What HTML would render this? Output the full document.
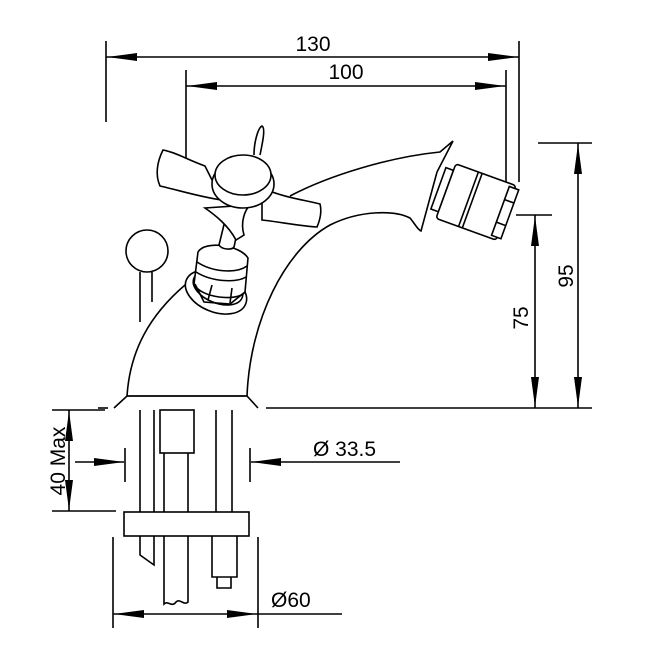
<!DOCTYPE html>
<html><head><style>html,body{margin:0;padding:0;background:#fff}svg{display:block}</style></head>
<body>
<svg width="649" height="649" viewBox="0 0 649 649" xmlns="http://www.w3.org/2000/svg" font-family="Liberation Sans, sans-serif">
<g stroke="#000" stroke-width="1.6" fill="none">
<line x1="106" y1="41" x2="106" y2="122"/>
<line x1="519" y1="41" x2="519" y2="182"/>
<line x1="106" y1="57" x2="519" y2="57"/>
<line x1="186" y1="70" x2="186" y2="162"/>
<line x1="506" y1="70" x2="506" y2="184"/>
<line x1="186" y1="86" x2="506" y2="86"/>
<line x1="538" y1="143" x2="592" y2="143"/>
<line x1="578" y1="143" x2="578" y2="408"/>
<line x1="516" y1="215" x2="552" y2="215"/>
<line x1="535" y1="215" x2="535" y2="408"/>
<line x1="266" y1="408" x2="592" y2="408"/>
<line x1="98" y1="408" x2="108" y2="408"/>
<path d="M114 408 L127 396 L247 396 L258 408"/>
<line x1="127" y1="396" x2="247" y2="396"/>
<path d="M127 396 C130 350 150 315 185 285"/>
<path d="M247 396 C250 320 285 250 330 225 C360 210 395 210 410 218 C415 224 418 230 421 231 L437 172"/>
<path d="M290 196 C330 175 390 157 440 152 L453 141 L437 172"/>
<ellipse cx="216" cy="292" rx="32" ry="20" transform="rotate(22 216 292)" fill="#fff"/>
<ellipse cx="218" cy="288" rx="26" ry="15" transform="rotate(22 218 288)" fill="#fff"/>
<path d="M198 252 C205 240 240 245 248 258 L245 292 C238 302 200 298 194 284 Z" fill="#fff"/>
<path d="M197 262 C212 272 236 274 247 266"/>
<path d="M196 272 C212 282 236 283 246 277"/>
<path d="M195 284 L204 302 L230 304 L245 292"/>
<path d="M212 285 L208 300 M232 288 L230 303"/>
<path d="M230 200 L219 245 C222 250 232 250 234 247 L243 205" fill="#fff"/>
<path d="M205 166 C188 160 175 152 163 150 C157 162 155 175 160 186 C178 190 200 197 222 200 Z" fill="#fff"/>
<path d="M262 188 C285 198 305 200 320 204 C322 212 320 220 317 227 C300 226 280 222 262 220 Z" fill="#fff"/>
<path d="M205 208 C215 215 228 225 236 240 L244 235 C240 222 245 210 250 205 Z" fill="#fff"/>
<ellipse cx="243" cy="184" rx="31" ry="24" fill="#fff"/>
<ellipse cx="243" cy="175" rx="28" ry="20" fill="#fff"/>
<path d="M254 155 C254 142 258 128 262 126 C266 128 262 145 260 155"/>
<circle cx="147" cy="251" r="21" fill="#fff"/>
<line x1="140" y1="272" x2="140" y2="322"/>
<line x1="152" y1="272" x2="152" y2="302"/>
<g transform="translate(476 202) rotate(20)" fill="#fff">
<rect x="-40" y="-22" width="8" height="44"/>
<rect x="-32" y="-29" width="64" height="58" rx="3"/>
<line x1="-8" y1="-29" x2="-8" y2="29"/>
<line x1="-4" y1="-29" x2="-4" y2="29"/>
<rect x="26" y="-26" width="10" height="52"/>
<line x1="26" y1="-12" x2="36" y2="-12"/>
<line x1="26" y1="12" x2="36" y2="12"/>
</g>
<line x1="140" y1="410" x2="140" y2="512"/><line x1="154" y1="410" x2="154" y2="512"/>
<rect x="160" y="410" width="34" height="43"/>
<line x1="164" y1="453" x2="164" y2="512"/><line x1="188" y1="453" x2="188" y2="512"/>
<line x1="216" y1="410" x2="216" y2="512"/><line x1="232" y1="410" x2="232" y2="512"/>
<rect x="124" y="512" width="125" height="24"/>
<path d="M140 536 L140 555 L154 565 L154 536"/>
<path d="M164 536 L164 604 C168 600 172 608 176 602 C180 598 184 606 188 602 L188 536"/>
<path d="M212 536 L212 577 L237 577 L237 536"/>
<path d="M217 577 L217 588 L231 588 L231 577"/>
<line x1="52" y1="410" x2="105" y2="410"/>
<line x1="52" y1="511" x2="116" y2="511"/>
<line x1="69" y1="410" x2="69" y2="511"/>
<line x1="125" y1="448" x2="125" y2="482"/>
<line x1="250" y1="448" x2="250" y2="482"/>
<line x1="75" y1="462" x2="124" y2="462"/>
<line x1="400" y1="462" x2="251" y2="462"/>
<line x1="113" y1="537" x2="113" y2="628"/>
<line x1="258" y1="537" x2="258" y2="628"/>
<line x1="113" y1="614" x2="342" y2="614"/>
</g>
<g fill="#000">
<polygon points="107,57 137,53 137,61"/><polygon points="518,57 488,53 488,61"/>
<polygon points="187,86 217,82 217,90"/><polygon points="505,86 475,82 475,90"/>
<polygon points="124,462 94,458 94,466"/><polygon points="251,462 281,458 281,466"/>
<polygon points="114,614 144,610 144,618"/><polygon points="257,614 227,610 227,618"/>
<polygon points="578,144 574,174 582,174"/><polygon points="578,407 574,377 582,377"/>
<polygon points="535,216 531,246 539,246"/><polygon points="535,407 531,377 539,377"/>
<polygon points="69,411 65,441 73,441"/><polygon points="69,510 65,480 73,480"/>
</g>
<g font-size="21" fill="#000">
<text x="313" y="51" text-anchor="middle">130</text>
<text x="346" y="79" text-anchor="middle">100</text>
<text transform="translate(573 276) rotate(-90)" text-anchor="middle">95</text>
<text transform="translate(528 318) rotate(-90)" text-anchor="middle">75</text>
<text transform="translate(65 461) rotate(-90)" text-anchor="middle">40 Max</text>
<text x="313" y="456">Ø 33.5</text>
<text x="271" y="607">Ø60</text>
</g>
</svg>
</body></html>
